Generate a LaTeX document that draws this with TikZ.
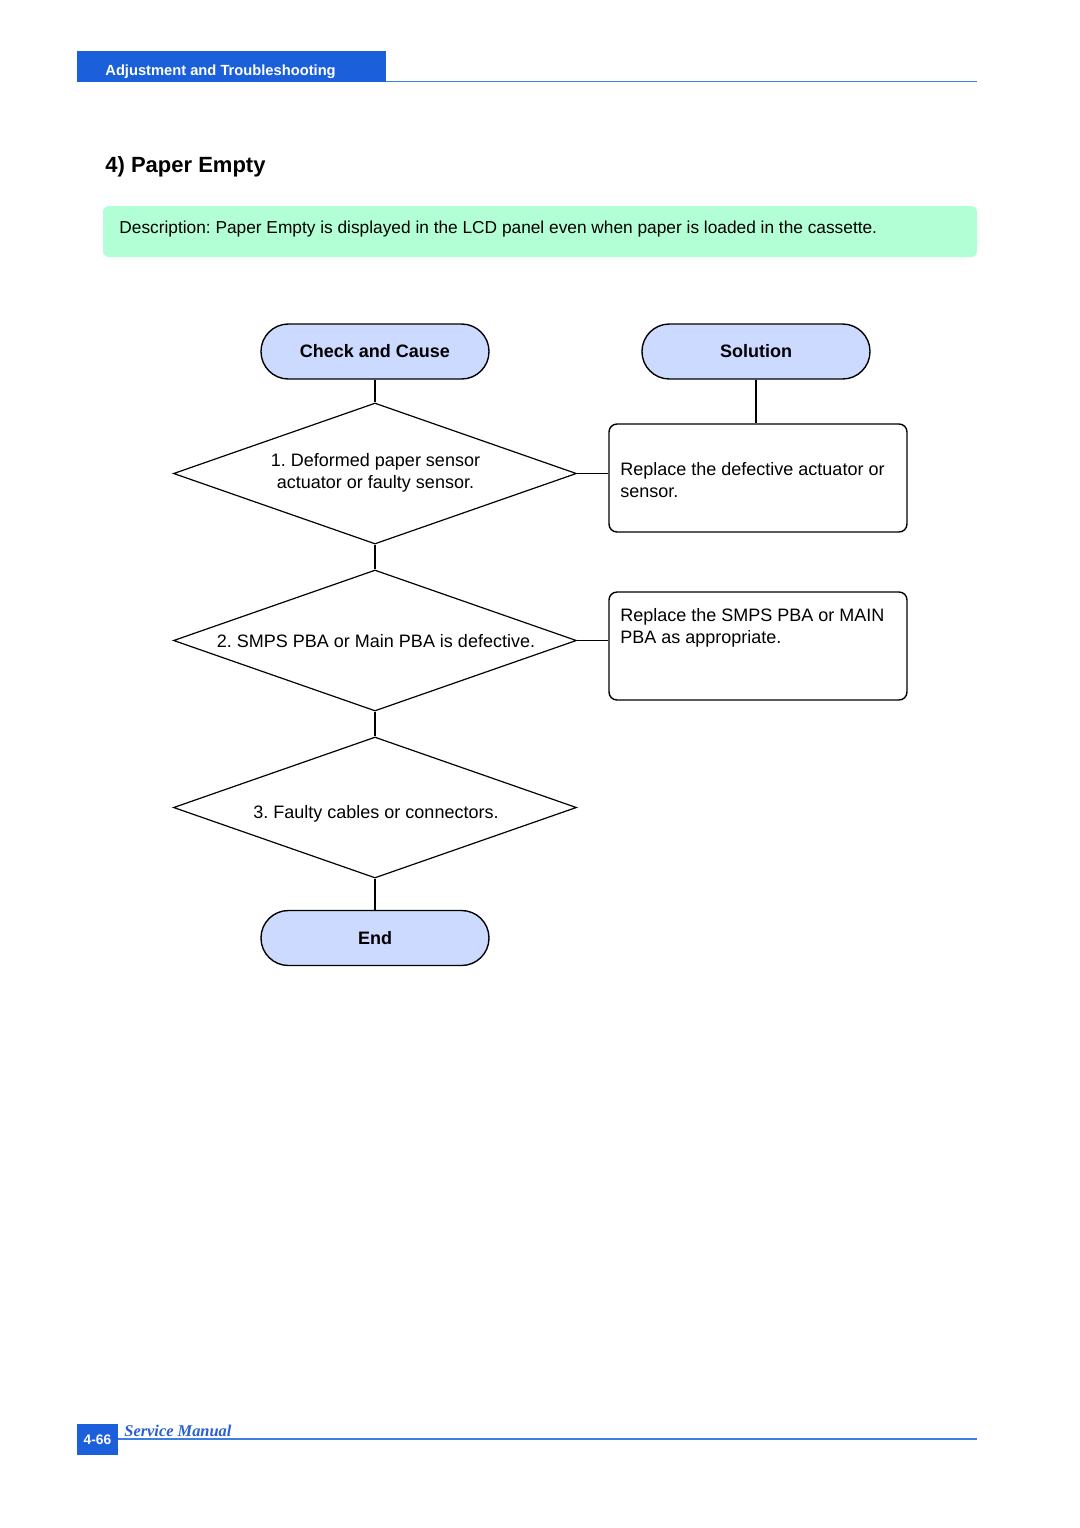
\documentclass[tikz,border=0pt]{standalone}
\usepackage{fontspec}
\setmainfont{Liberation Sans}
\newfontfamily\manualfont{Liberation Serif}
\usetikzlibrary{shapes.geometric}
\definecolor{hdrblue}{HTML}{1B5FDB}
\definecolor{lineblue}{HTML}{3C7FE0}
\definecolor{descgreen}{HTML}{B3FFD5}
\definecolor{termfill}{HTML}{CCDAFF}
\definecolor{manualblue}{HTML}{2A5FD0}
\frenchspacing
\begin{document}
\begin{tikzpicture}[x=0.5pt,y=-0.5pt,
  bodyfont/.style={font=\fontsize{9}{11}\selectfont},
  term/.style={draw, line width=0.7pt, fill=termfill, rounded corners=13.7pt,
    minimum width=114pt, minimum height=27.5pt, inner sep=0pt,
    font=\fontsize{9}{11}\selectfont\bfseries},
  decision/.style={draw, line width=0.6pt, diamond, inner sep=0pt,
    minimum width=201.5pt, minimum height=70.5pt},
  solbox/.style={draw, line width=0.7pt, rounded corners=4pt,
    minimum width=149pt, minimum height=54pt, inner sep=0pt},
  txt/.style={bodyfont, inner sep=0pt},
  conn/.style={line width=0.7pt}
]
\useasboundingbox (0,0) rectangle (1080,1528);

% header
\fill[hdrblue] (77,51) rectangle (386,82);
\node[anchor=base west, inner sep=0pt, text=white, font=\fontsize{7.35}{9}\selectfont\bfseries] (hdr) at (105,75) {Adjustment and Troubleshooting};
\draw[lineblue, line width=0.75pt] (386,81.3) -- (977,81.3);

% title
\node[anchor=base west, inner sep=0pt, font=\fontsize{11}{13}\selectfont\bfseries] (title) at (105,172) {4) Paper Empty};

% description
\fill[descgreen, rounded corners=3pt] (103,206) rectangle (977,257);
\node[inner sep=0pt, anchor=base west, font=\fontsize{8.65}{11}\selectfont] (desc) at (119,233) {Description: Paper Empty is displayed in the LCD panel even when paper is loaded in the cassette.};

% flowchart nodes
\node[term] (cc) at (375,351.5) {Check and Cause};
\node[term] (sol) at (756,351.5) {Solution};
\node[decision] (d1) at (375,473.5) {};
\node[decision] (d2) at (375,640.5) {};
\node[decision] (d3) at (375,807.5) {};
\node[term] (endn) at (375,938) {End};
\node[solbox] (b1) at (758,478) {};
\node[solbox] (b2) at (758,646) {};

% texts
\node[txt, anchor=north, align=center] (t1) at (375.5,453) {1. Deformed paper sensor\\actuator or faulty sensor.};
\node[txt, anchor=base] (t2) at (376,647) {2. SMPS PBA or Main PBA is defective.};
\node[txt, anchor=base] (t3) at (376,818) {3. Faulty cables or connectors.};
\node[txt, anchor=north west, align=left] (s1) at (620,462) {Replace the defective actuator or\\sensor.};
\node[txt, anchor=north west, align=left] (s2) at (620,608) {Replace the SMPS PBA or MAIN\\PBA as appropriate.};

% connectors
\draw[conn] (cc.south) -- (d1.north);
\draw[conn] (d1.south) -- (d2.north);
\draw[conn] (d2.south) -- (d3.north);
\draw[conn] (d3.south) -- (endn.north);
\draw[conn] (sol.south) -- (sol.south |- b1.north);
\draw[conn] (d1.east) -- (d1.east -| b1.west);
\draw[conn] (d2.east) -- (d2.east -| b2.west);

% footer
\fill[hdrblue] (77,1424) rectangle (118,1455);
\node[inner sep=0pt, text=white, font=\fontsize{6.9}{8}\selectfont\bfseries] (pg) at (97.5,1440) {4-66};
\node[anchor=base west, inner sep=0pt, text=manualblue, font=\manualfont\fontsize{8.2}{10}\selectfont\bfseries\itshape] (sm) at (124,1436) {Service Manual};
\draw[lineblue, line width=0.6pt] (118,1439) -- (977,1439);
\end{tikzpicture}
\end{document}
